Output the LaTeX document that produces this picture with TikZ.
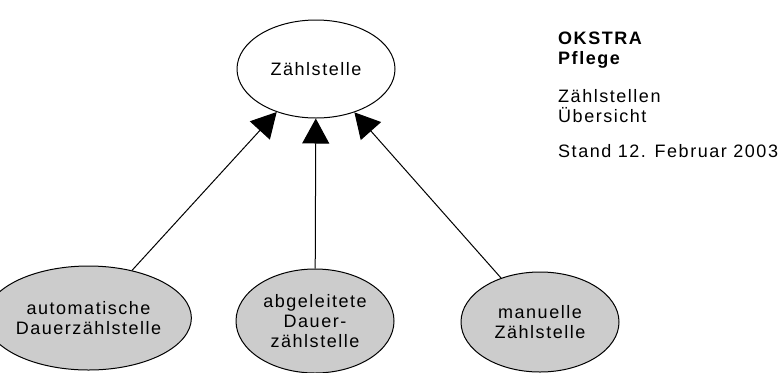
\documentclass[tikz,border=0pt]{standalone}
\usepackage{fontspec}
\setmainfont[LetterSpace=8.5]{Liberation Sans}
\usetikzlibrary{shapes.geometric,arrows.meta}
\definecolor{nodegrey}{HTML}{CCCCCC}
\begin{document}
\begin{tikzpicture}[x=1bp,y=-1bp,
  every node/.style={font=\fontsize{18bp}{20bp}\selectfont},
  entity/.style={ellipse,draw=black,line width=1bp,inner sep=0pt,align=center,
    minimum width=158bp,minimum height=98bp},
  subentity/.style={entity,fill=nodegrey,minimum height=104bp},
  gen/.style={line width=1bp,-{Triangle[length=25bp,width=27bp]}},
  info/.style={anchor=base west,inner sep=0pt}]
\useasboundingbox (0,0) rectangle (784,372);
\node[entity] (top) at (316,69) {Zählstelle};
\node[subentity] (auto) at (88.5,318) {automatische\\Dauerzählstelle};
\node[subentity] (abg) at (315,321) {abgeleitete\\Dauer-\\zählstelle};
\node[subentity,minimum height=100bp] (man) at (540,322) {manuelle\\Zählstelle};
\draw[gen] (auto) -- (top);
\draw[gen] (abg) -- (top);
\draw[gen] (man) -- (top);
\node[info] (t1) at (558,44) {\bfseries OKSTRA};
\node[info] (t2) at (558,64) {\bfseries Pflege};
\node[info] (t3) at (558,102) {Zählstellen};
\node[info] (t4) at (558,122) {Übersicht};
\node[info] (t5) at (558,157) {Stand 12. Februar 2003};
\end{tikzpicture}
\end{document}
